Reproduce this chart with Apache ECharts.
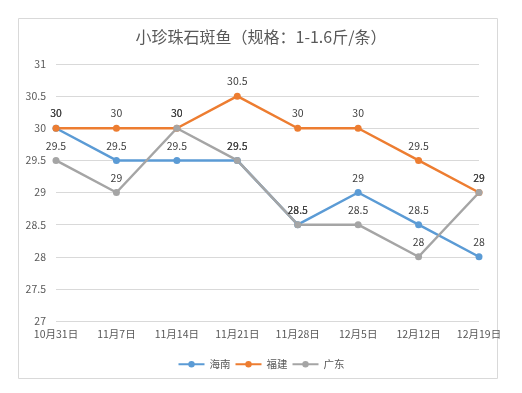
<!DOCTYPE html>
<html><head><meta charset="utf-8">
<script src="https://cdn.jsdelivr.net/npm/echarts@6/dist/echarts.min.js"></script>
<style>html,body{margin:0;padding:0;background:#fff}#c{width:522px;height:393px}</style>
</head><body><div id="c"></div>
<script>
const categories = ['10月31日','11月7日','11月14日','11月21日','11月28日','12月5日','12月12日','12月19日'];
const hainan = [30, 29.5, 29.5, 29.5, 28.5, 29, 28.5, 28];
const fujian = [30, 30, 30, 30.5, 30, 30, 29.5, 29];
const guangdong = [29.5, 29, 30, 29.5, 28.5, 28.5, 28, 29];
const seriesNames = ['海南','福建','广东'];
const colors = ['#5B9BD5','#ED7D31','#A5A5A5'];
const FONT = '"Noto Sans CJK SC", "Noto Sans", sans-serif';

const chart = echarts.init(document.getElementById('c'), null, {renderer:'canvas'});
function mk(name, data, color){
  return {
    name, type:'line', data, color,
    symbol:'circle', symbolSize:7,
    lineStyle:{width:2.5, color},
    itemStyle:{color},
    label:{show:true, position:'top', distance:6, color:'#404040', fontSize:10.5, fontFamily:FONT},
    animation:false
  };
}
chart.setOption({
  animation:false,
  textStyle:{fontFamily:FONT},
  graphic:[{type:'rect', shape:{x:18.5,y:18.5,width:479,height:360}, style:{fill:'none', stroke:'#d9d9d9', lineWidth:1}, silent:true, z:-1}],
  title:{text:'小珍珠石斑鱼（规格：1-1.6斤/条）', left:'center', top:24, textStyle:{fontSize:16, fontWeight:'normal', color:'#595959', fontFamily:FONT}},
  legend:{data:seriesNames, top:354, left:'center', itemWidth:26, itemHeight:8, itemGap:4, textStyle:{fontSize:10.5, color:'#595959', fontFamily:FONT}},
  grid:{left:56, right:43, top:64, bottom:72, containLabel:false},
  xAxis:{type:'category', data:categories, boundaryGap:false,
    axisLine:{show:false}, axisTick:{show:false},
    axisLabel:{color:'#595959', fontSize:10.5, margin:8, fontFamily:FONT, interval:0}},
  yAxis:{type:'value', min:27, max:31, interval:0.5,
    axisLine:{show:false}, axisTick:{show:false},
    axisLabel:{color:'#595959', fontSize:10.5, margin:10, fontFamily:FONT},
    splitLine:{lineStyle:{color:'#d9d9d9', width:1}}},
  series:[mk(seriesNames[0], hainan, colors[0]), mk(seriesNames[1], fujian, colors[1]), mk(seriesNames[2], guangdong, colors[2])]
});
</script></body></html>
